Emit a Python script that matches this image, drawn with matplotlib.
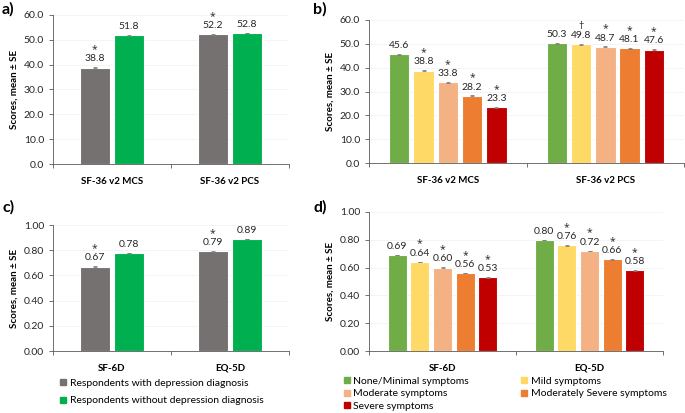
import numpy as np
import matplotlib.pyplot as plt
from matplotlib.ticker import FormatStrFormatter
from matplotlib.lines import Line2D

# ---- data ----
sf36_cats = ["SF-36 v2 MCS", "SF-36 v2 PCS"]
util_cats = ["SF-6D", "EQ-5D"]

diag_names = ["Respondents with depression diagnosis",
              "Respondents without depression diagnosis"]
sf36_diag = [[38.8, 52.2], [51.8, 52.8]]
sf36_diag_se = [[0.2, 0.1], [0.1, 0.1]]
sf36_diag_sig = [["*", "*"], ["", ""]]
util_diag = [[0.67, 0.79], [0.78, 0.89]]
util_diag_se = [[0.002, 0.002], [0.001, 0.001]]
util_diag_sig = [["*", "*"], ["", ""]]

sev_names = ["None/Minimal symptoms", "Mild symptoms", "Moderate symptoms",
             "Moderately Severe symptoms", "Severe symptoms"]
sf36_sev = [[45.6, 50.3], [38.8, 49.8], [33.8, 48.7], [28.2, 48.1], [23.3, 47.6]]
sf36_sev_se = [[0.2, 0.2], [0.2, 0.2], [0.2, 0.2], [0.2, 0.2], [0.2, 0.3]]
sf36_sev_sig = [["", ""], ["*", "\u2020"], ["*", "*"], ["*", "*"], ["*", "*"]]
util_sev = [[0.69, 0.80], [0.64, 0.76], [0.60, 0.72], [0.56, 0.66], [0.53, 0.58]]
util_sev_se = [[0.002, 0.002], [0.002, 0.002], [0.002, 0.002], [0.002, 0.002], [0.002, 0.003]]
util_sev_sig = [["", ""], ["*", "*"], ["*", "*"], ["*", "*"], ["*", "*"]]

diag_colors = ["#767171", "#00B050"]
sev_colors = ["#70AD47", "#FFD966", "#F4B183", "#ED7D31", "#C00000"]

plt.rcParams['font.family'] = ['Lato', 'DejaVu Sans']
fig = plt.figure(figsize=(6.85, 4.13), dpi=100)

def panel(rect, cats, vals, ses, sigs, colors, width, step, ymax, ystep, fmt, letter, lpos):
  ax = fig.add_axes(rect)
  x = np.arange(len(cats))
  n = len(vals)
  for i in range(n):
    off = (i - (n - 1) / 2) * step
    ax.bar(x + off, vals[i], width, color=colors[i], edgecolor="white", linewidth=0.8, zorder=2)
    ax.errorbar(x + off, vals[i], yerr=ses[i], fmt="none", ecolor="#7F7F7F",
                elinewidth=0.6, capsize=1.5, capthick=0.6, zorder=3)
    for j in range(len(cats)):
      ax.annotate(fmt % vals[i][j], (x[j] + off, vals[i][j]), xytext=(0, 3),
                  textcoords="offset points", ha="center", va="bottom", fontsize=7.5, color="#262626")
      if sigs[i][j]:
        ax.annotate(sigs[i][j], (x[j] + off, vals[i][j]), xytext=(0, 9),
                    textcoords="offset points", ha="center", va="bottom", fontsize=7.5,
                    color="#262626", family=["Open Sans", "DejaVu Sans"])
  ax.set_xlim(-0.5, len(cats) - 0.5)
  ax.set_ylim(0, ymax)
  ax.set_yticks(np.arange(0, ymax + ystep / 2, ystep))
  ax.yaxis.set_major_formatter(FormatStrFormatter("%.1f" if ymax > 2 else "%.2f"))
  ax.set_xticks(x)
  ax.set_xticklabels(cats, fontweight="bold", fontsize=7)
  ax.set_xticks(np.arange(-0.5, len(cats)), minor=True)
  ax.tick_params(axis="x", which="major", length=0, pad=9)
  ax.tick_params(axis="x", which="minor", length=3, color="#595959", width=0.6)
  ax.tick_params(axis="y", length=3, color="#595959", width=0.6, labelsize=7.5, labelcolor="#262626")
  ax.grid(axis="y", color="#F2F2F2", linewidth=0.6, zorder=0)
  ax.set_axisbelow(True)
  for s in ["top", "right"]:
    ax.spines[s].set_visible(False)
  for s in ["left", "bottom"]:
    ax.spines[s].set_color("#595959")
    ax.spines[s].set_linewidth(0.6)
  ax.set_ylabel("Scores, mean \u00b1 SE", fontsize=7, fontweight="bold", labelpad=4)
  fig.text(lpos[0], lpos[1], letter, fontsize=11.5, fontweight="bold", va="top")
  return ax

ax_a = panel([0.0774, 0.6029, 0.3445, 0.3608], sf36_cats, sf36_diag, sf36_diag_se, sf36_diag_sig,
             diag_colors, 0.25, 0.29, 60, 10, "%.1f", "a)", (0.003, 0.995))
ax_b = panel([0.5387, 0.6053, 0.4599, 0.3463], sf36_cats, sf36_sev, sf36_sev_se, sf36_sev_sig,
             sev_colors, 0.13, 0.154, 60, 10, "%.1f", "b)", (0.457, 0.995))
ax_c = panel([0.0774, 0.1501, 0.3445, 0.3051], util_cats, util_diag, util_diag_se, util_diag_sig,
             diag_colors, 0.25, 0.29, 1.0, 0.2, "%.2f", "c)", (0.003, 0.515))
ax_d = panel([0.5387, 0.1501, 0.4292, 0.3366], util_cats, util_sev, util_sev_se, util_sev_sig,
             sev_colors, 0.13, 0.154, 1.0, 0.2, "%.2f", "d)", (0.457, 0.515))

h1 = [Line2D([], [], marker="s", linestyle="none", markersize=5, color=c) for c in diag_colors]
fig.legend(h1, diag_names, loc="upper left", bbox_to_anchor=(0.079, 0.093), frameon=False,
           fontsize=7.5, handletextpad=0.1, labelspacing=0.75, borderaxespad=0, handlelength=1)

# legend d fills row by row: reorder for matplotlib's column-first layout
order = [0, 2, 4, 1, 3]
h2 = [Line2D([], [], marker="s", linestyle="none", markersize=5, color=sev_colors[k]) for k in order]
fig.legend(h2, [sev_names[k] for k in order], loc="upper left", bbox_to_anchor=(0.493, 0.098),
           frameon=False, ncol=2, fontsize=7.5, handletextpad=0.1, labelspacing=0.3,
           columnspacing=4.8, borderaxespad=0, handlelength=1)

fig.savefig("out.png", dpi=100)
